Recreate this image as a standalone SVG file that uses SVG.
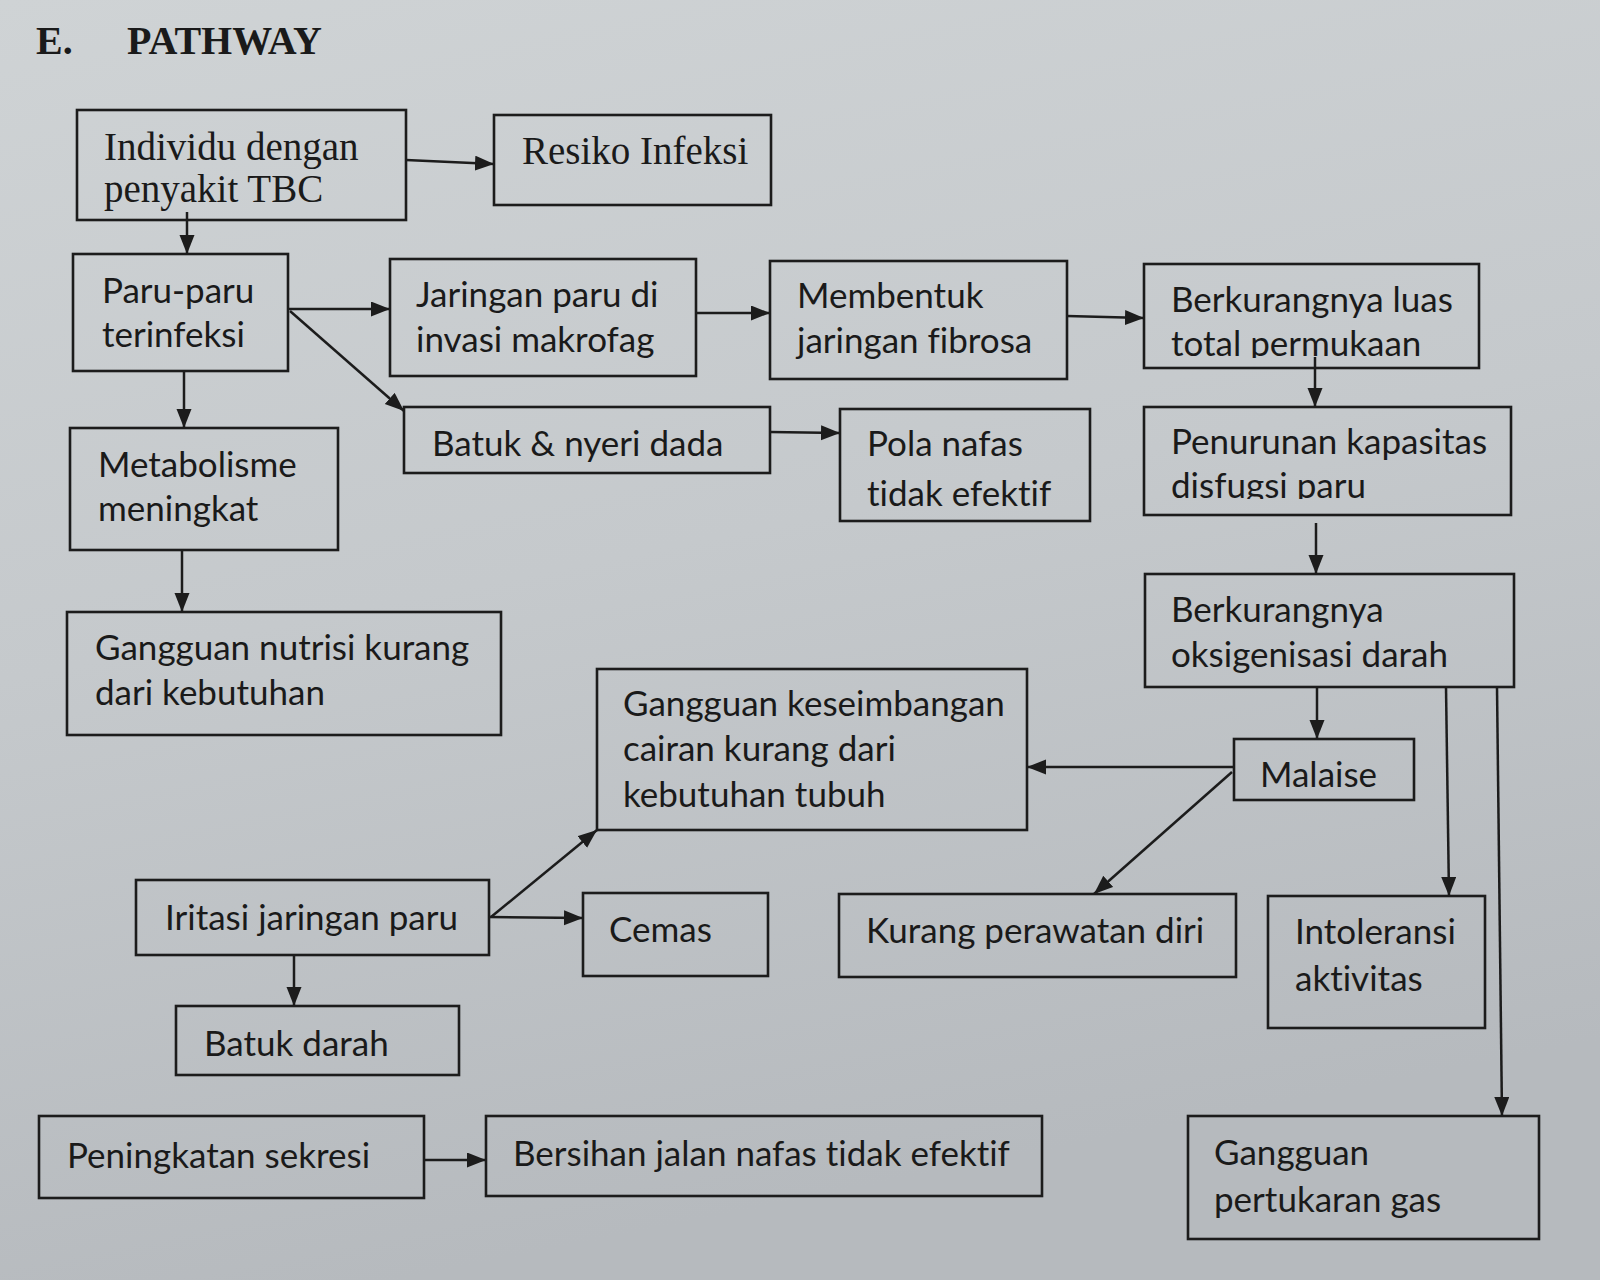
<svg xmlns="http://www.w3.org/2000/svg" width="1600" height="1280" viewBox="0 0 1600 1280">
<defs>
<linearGradient id="bg" x1="0" y1="0" x2="0.25" y2="1">
<stop offset="0" stop-color="#cfd3d5"/>
<stop offset="0.5" stop-color="#c5c9cc"/>
<stop offset="1" stop-color="#b6babe"/>
</linearGradient>
<marker id="ah" markerUnits="userSpaceOnUse" markerWidth="20" markerHeight="16" refX="19" refY="7.5" orient="auto">
<path d="M0,0 L19,7.5 L0,15 z" fill="#1c1c1c"/>
</marker>
<clipPath id="cp6"><rect x="1144" y="264" width="335" height="94"/></clipPath>
<clipPath id="cp9"><rect x="840" y="409" width="250" height="98"/></clipPath>
<clipPath id="cp10"><rect x="1144" y="407" width="367" height="92"/></clipPath>
</defs>
<style>
.box{fill:none;stroke:#1c1c1c;stroke-width:2.6}
.t{font-family:Lato,"Liberation Sans",sans-serif;font-size:35px;fill:#1a1a1a;font-variant-ligatures:none}
.s{font-family:"Liberation Serif",serif;font-size:39px;fill:#1a1a1a}
.title{font-family:"Liberation Serif",serif;font-size:40px;font-weight:bold;fill:#1a1a1a}
.c{fill:none;stroke:#1c1c1c;stroke-width:2.5;marker-end:url(#ah)}
</style>
<rect x="0" y="0" width="1600" height="1280" fill="url(#bg)"/>
<g id="title">
<text class="title" x="36" y="54">E.</text>
<text class="title" x="127" y="54">PATHWAY</text>
</g>
<g id="n1"><rect class="box" x="77" y="110" width="329" height="110"/>
<text class="s" x="104" y="160">Individu dengan</text><text class="s" x="104" y="202">penyakit TBC</text></g>
<g id="n2"><rect class="box" x="494" y="115" width="277" height="90"/>
<text class="s" x="522" y="164">Resiko Infeksi</text></g>
<g id="n3"><rect class="box" x="73" y="254" width="215" height="117"/>
<text class="t" x="102" y="303">Paru-paru</text><text class="t" x="102" y="347">terinfeksi</text></g>
<g id="n4"><rect class="box" x="390" y="259" width="306" height="117"/>
<text class="t" x="416" y="307">Jaringan paru di</text><text class="t" x="416" y="352">invasi makrofag</text></g>
<g id="n5"><rect class="box" x="770" y="261" width="297" height="118"/>
<text class="t" x="797" y="308">Membentuk</text><text class="t" x="797" y="353">jaringan fibrosa</text></g>
<g id="n6"><rect class="box" x="1144" y="264" width="335" height="104"/>
<g clip-path="url(#cp6)"><text class="t" x="1171" y="312">Berkurangnya luas</text><text class="t" x="1171" y="356">total permukaan</text></g></g>
<g id="n7"><rect class="box" x="70" y="428" width="268" height="122"/>
<text class="t" x="98" y="477">Metabolisme</text><text class="t" x="98" y="521">meningkat</text></g>
<g id="n8"><rect class="box" x="404" y="407" width="366" height="66"/>
<text class="t" x="432" y="456">Batuk &amp; nyeri dada</text></g>
<g id="n9"><rect class="box" x="840" y="409" width="250" height="112"/>
<g clip-path="url(#cp9)"><text class="t" x="867" y="456">Pola nafas</text><text class="t" x="867" y="506">tidak efektif</text></g></g>
<g id="n10"><rect class="box" x="1144" y="407" width="367" height="108"/>
<g clip-path="url(#cp10)"><text class="t" x="1171" y="454">Penurunan kapasitas</text><text class="t" x="1171" y="498">disfugsi paru</text></g></g>
<g id="n11"><rect class="box" x="1145" y="574" width="369" height="113"/>
<text class="t" x="1171" y="622">Berkurangnya</text><text class="t" x="1171" y="667">oksigenisasi darah</text></g>
<g id="n12"><rect class="box" x="67" y="612" width="434" height="123"/>
<text class="t" x="95" y="660">Gangguan nutrisi kurang</text><text class="t" x="95" y="705">dari kebutuhan</text></g>
<g id="n13"><rect class="box" x="597" y="669" width="430" height="161"/>
<text class="t" x="623" y="716">Gangguan keseimbangan</text><text class="t" x="623" y="761">cairan kurang dari</text><text class="t" x="623" y="807">kebutuhan tubuh</text></g>
<g id="n14"><rect class="box" x="1234" y="739" width="180" height="61"/>
<text class="t" x="1260" y="787">Malaise</text></g>
<g id="n15"><rect class="box" x="136" y="880" width="353" height="75"/>
<text class="t" x="165" y="930">Iritasi jaringan paru</text></g>
<g id="n16"><rect class="box" x="583" y="893" width="185" height="83"/>
<text class="t" x="609" y="942">Cemas</text></g>
<g id="n17"><rect class="box" x="839" y="894" width="397" height="83"/>
<text class="t" x="866" y="943">Kurang perawatan diri</text></g>
<g id="n18"><rect class="box" x="1268" y="896" width="217" height="132"/>
<text class="t" x="1295" y="944">Intoleransi</text><text class="t" x="1295" y="991">aktivitas</text></g>
<g id="n19"><rect class="box" x="176" y="1006" width="283" height="69"/>
<text class="t" x="204" y="1056">Batuk darah</text></g>
<g id="n20"><rect class="box" x="39" y="1116" width="385" height="82"/>
<text class="t" x="67" y="1168">Peningkatan sekresi</text></g>
<g id="n21"><rect class="box" x="486" y="1116" width="556" height="80"/>
<text class="t" x="513" y="1166">Bersihan jalan nafas tidak efektif</text></g>
<g id="n22"><rect class="box" x="1188" y="1116" width="351" height="123"/>
<text class="t" x="1214" y="1165">Gangguan</text><text class="t" x="1214" y="1212">pertukaran gas</text></g>
<g id="connectors">
<line class="c" x1="406" y1="160" x2="494" y2="164"/>
<line class="c" x1="187" y1="212" x2="187" y2="254"/>
<line class="c" x1="288" y1="309" x2="390" y2="309"/>
<line class="c" x1="290" y1="311" x2="404" y2="411"/>
<line class="c" x1="696" y1="313" x2="770" y2="313"/>
<line class="c" x1="1067" y1="316" x2="1144" y2="318"/>
<line class="c" x1="184" y1="371" x2="184" y2="428"/>
<line class="c" x1="770" y1="432" x2="840" y2="433"/>
<line class="c" x1="1315" y1="357" x2="1315" y2="407"/>
<line class="c" x1="1316" y1="523" x2="1316" y2="574"/>
<line class="c" x1="182" y1="550" x2="182" y2="612"/>
<line class="c" x1="1317" y1="687" x2="1317" y2="739"/>
<line class="c" x1="1446" y1="687" x2="1449" y2="896"/>
<line class="c" x1="1497" y1="687" x2="1502" y2="1116"/>
<line class="c" x1="1234" y1="767" x2="1027" y2="767"/>
<line class="c" x1="1232" y1="772" x2="1094" y2="894"/>
<line class="c" x1="491" y1="917" x2="597" y2="830"/>
<line class="c" x1="489" y1="917" x2="583" y2="918"/>
<line class="c" x1="294" y1="955" x2="294" y2="1006"/>
<line class="c" x1="423" y1="1160" x2="486" y2="1160"/>
</g>
</svg>
